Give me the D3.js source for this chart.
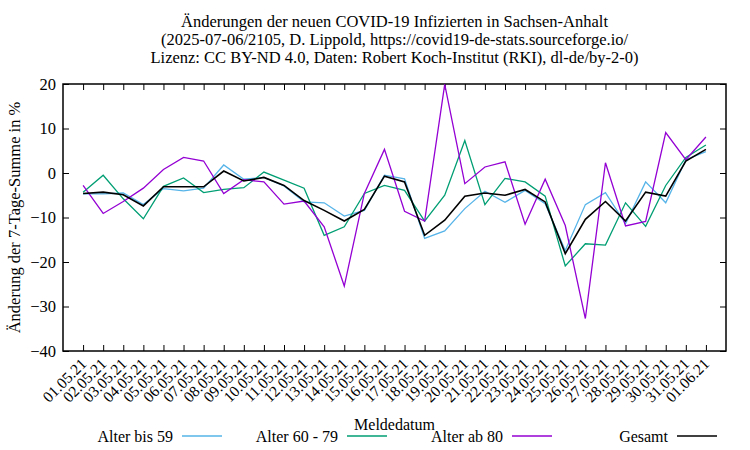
<!DOCTYPE html>
<html>
<head>
<meta charset="utf-8">
<script src="https://cdn.jsdelivr.net/npm/d3@7"></script>
<style>
  body { margin: 0; background: #fff; }
  text { font-family: "Liberation Serif", "Times New Roman", serif; }
  .axis path, .axis line { stroke: #000; }
</style>
</head>
<body>
<div id="chart"></div>
<script>
// data
var dates = ['01.05.21','02.05.21','03.05.21','04.05.21','05.05.21','06.05.21','07.05.21','08.05.21',
  '09.05.21','10.05.21','11.05.21','12.05.21','13.05.21','14.05.21','15.05.21','16.05.21','17.05.21',
  '18.05.21','19.05.21','20.05.21','21.05.21','22.05.21','23.05.21','24.05.21','25.05.21','26.05.21',
  '27.05.21','28.05.21','29.05.21','30.05.21','31.05.21','01.06.21']

var bis59 = [-4.7,-4.7,-4.5,-7.1,-3.5,-4.0,-3.4,1.8,-1.4,-1.0,-2.9,-6.5,-6.7,-9.7,-8.4,-0.5,
  -1.3,-14.7,-13.0,-8.0,-4.1,-6.6,-3.9,-6.9,-17.4,-7.1,-4.4,-11.4,-2.0,-6.7,3.0,4.8]
var a6079 = [-4.3,-0.5,-5.8,-10.3,-3.0,-1.1,-4.4,-3.7,-3.3,0.2,-1.6,-3.4,-14.0,-12.1,-4.6,-2.8,
  -3.9,-10.8,-5.0,7.3,-7.1,-1.2,-2.0,-5.2,-20.9,-15.9,-16.2,-6.7,-12.0,-2.8,3.5,6.3]
var ab80 = [-2.8,-9.1,-6.4,-3.4,0.8,3.5,2.7,-4.6,-1.5,-2.0,-7.0,-6.3,-12.1,-25.4,-4.6,5.3,
  -8.6,-10.8,19.9,-2.4,1.35,2.5,-11.5,-1.4,-11.8,-32.7,2.3,-11.9,-10.9,9.1,3.0,8.1]
var gesamt = [-4.6,-4.3,-4.9,-7.4,-3.1,-3.1,-3.1,0.45,-1.8,-1.0,-2.8,-6.2,-8.4,-10.8,-8.2,-0.7,
  -2.0,-14.0,-10.6,-5.2,-4.5,-5.0,-3.7,-6.5,-18.1,-10.4,-6.4,-10.8,-4.3,-5.2,2.7,5.3]

var yTicks = [-40,-30,-20,-10,0,10,20]

var series = [
  { name: 'Alter bis 59', values: bis59, color: '#56b4e9' },
  { name: 'Alter 60 - 79', values: a6079, color: '#009e73' },
  { name: 'Alter ab 80', values: ab80, color: '#9400d3' },
  { name: 'Gesamt', values: gesamt, color: '#000000' }
]

var titleLines = [
  'Änderungen der neuen COVID-19 Infizierten in Sachsen-Anhalt',
  '(2025-07-06/2105, D. Lippold, https://covid19-de-stats.sourceforge.io/',
  'Lizenz: CC BY-ND 4.0, Daten: Robert Koch-Institut (RKI), dl-de/by-2-0)'
]

var W = 750, H = 450
var margin = { top: 84, right: 24, bottom: 99, left: 63 }
var width = W - margin.left - margin.right
var height = H - margin.top - margin.bottom

var svg = d3.select('#chart').append('svg')
  .attr('width', W)
  .attr('height', H)

var g = svg.append('g')
  .attr('transform', 'translate(' + margin.left + ',' + margin.top + ')')

// scales
var xScale = d3.scaleLinear().domain([-1, dates.length]).range([0, width])
var yScale = d3.scaleLinear().domain([-40, 20]).range([height, 0])

var idx = d3.range(dates.length)

// axes, ticks point inwards like gnuplot
var xAxis = d3.axisBottom(xScale).tickValues(idx).tickSizeInner(-6).tickSizeOuter(0)
  .tickFormat(function(i){ return dates[i] })
var xTop = d3.axisTop(xScale).tickValues(idx).tickSizeInner(-6).tickSizeOuter(0).tickFormat('')
var yAxis = d3.axisLeft(yScale).tickValues(yTicks).tickSizeInner(-6).tickSizeOuter(0)
var yRight = d3.axisRight(yScale).tickValues(yTicks).tickSizeInner(-6).tickSizeOuter(0).tickFormat('')

var gx = g.append('g')
  .attr('class', 'x axis')
  .attr('transform', 'translate(0,' + height + ')')
  .call(xAxis)
gx.select('.domain').remove()
gx.selectAll('text')
  .attr('font-size', 15.5)
  .attr('fill', '#000')
  .attr('text-anchor', 'end')
  .attr('y', null)
  .attr('transform', 'translate(0,10) rotate(-45)')
  .attr('dy', '0.35em')

var gt = g.append('g').attr('class', 'x axis').call(xTop)
gt.select('.domain').remove()

var gy = g.append('g').attr('class', 'y axis').call(yAxis)
gy.select('.domain').remove()
gy.selectAll('text').attr('font-size', 16.5).attr('x', -7).attr('fill', '#000')

var gr = g.append('g').attr('class', 'y axis')
  .attr('transform', 'translate(' + width + ',0)')
  .call(yRight)
gr.select('.domain').remove()

// frame
g.append('rect')
  .attr('width', width)
  .attr('height', height)
  .attr('fill', 'none')
  .attr('stroke', '#000')
  .attr('stroke-width', 1.5)

// lines
var line = d3.line()
  .x(function(d, i){ return xScale(i) })
  .y(function(d){ return yScale(d) })

g.selectAll('.serie')
  .data(series)
  .enter().append('path')
  .attr('class', 'serie')
  .attr('d', function(d){ return line(d.values) })
  .attr('fill', 'none')
  .attr('stroke', function(d){ return d.color })
  .attr('stroke-width', function(d){ return d.name == 'Gesamt' ? 1.6 : 1.3 })

// title
svg.append('g').selectAll('text')
  .data(titleLines)
  .enter().append('text')
  .attr('x', margin.left + width / 2)
  .attr('y', function(d, i){ return 27 + 18 * i })
  .attr('text-anchor', 'middle')
  .attr('font-size', 16.5)
  .text(function(d){ return d })

// axis labels
svg.append('text')
  .attr('transform', 'translate(20,' + (margin.top + height / 2) + ') rotate(-90)')
  .attr('text-anchor', 'middle')
  .attr('font-size', 16.5)
  .text('Änderung der 7-Tage-Summe in %')

svg.append('text')
  .attr('x', margin.left + width / 2)
  .attr('y', 430)
  .attr('text-anchor', 'middle')
  .attr('font-size', 16)
  .text('Meldedatum')

// legend
var legendX = [182, 347, 512, 677]
var legend = svg.append('g').selectAll('g')
  .data(series)
  .enter().append('g')
  .attr('transform', function(d, i){ return 'translate(' + legendX[i] + ',436)' })

legend.append('text')
  .attr('x', -9)
  .attr('dy', '0.35em')
  .attr('text-anchor', 'end')
  .attr('font-size', 16)
  .text(function(d){ return d.name })

legend.append('line')
  .attr('x1', 0)
  .attr('x2', 40)
  .attr('stroke', function(d){ return d.color })
  .attr('stroke-width', function(d){ return d.name == 'Gesamt' ? 1.6 : 1.3 })
</script>
</body>
</html>
